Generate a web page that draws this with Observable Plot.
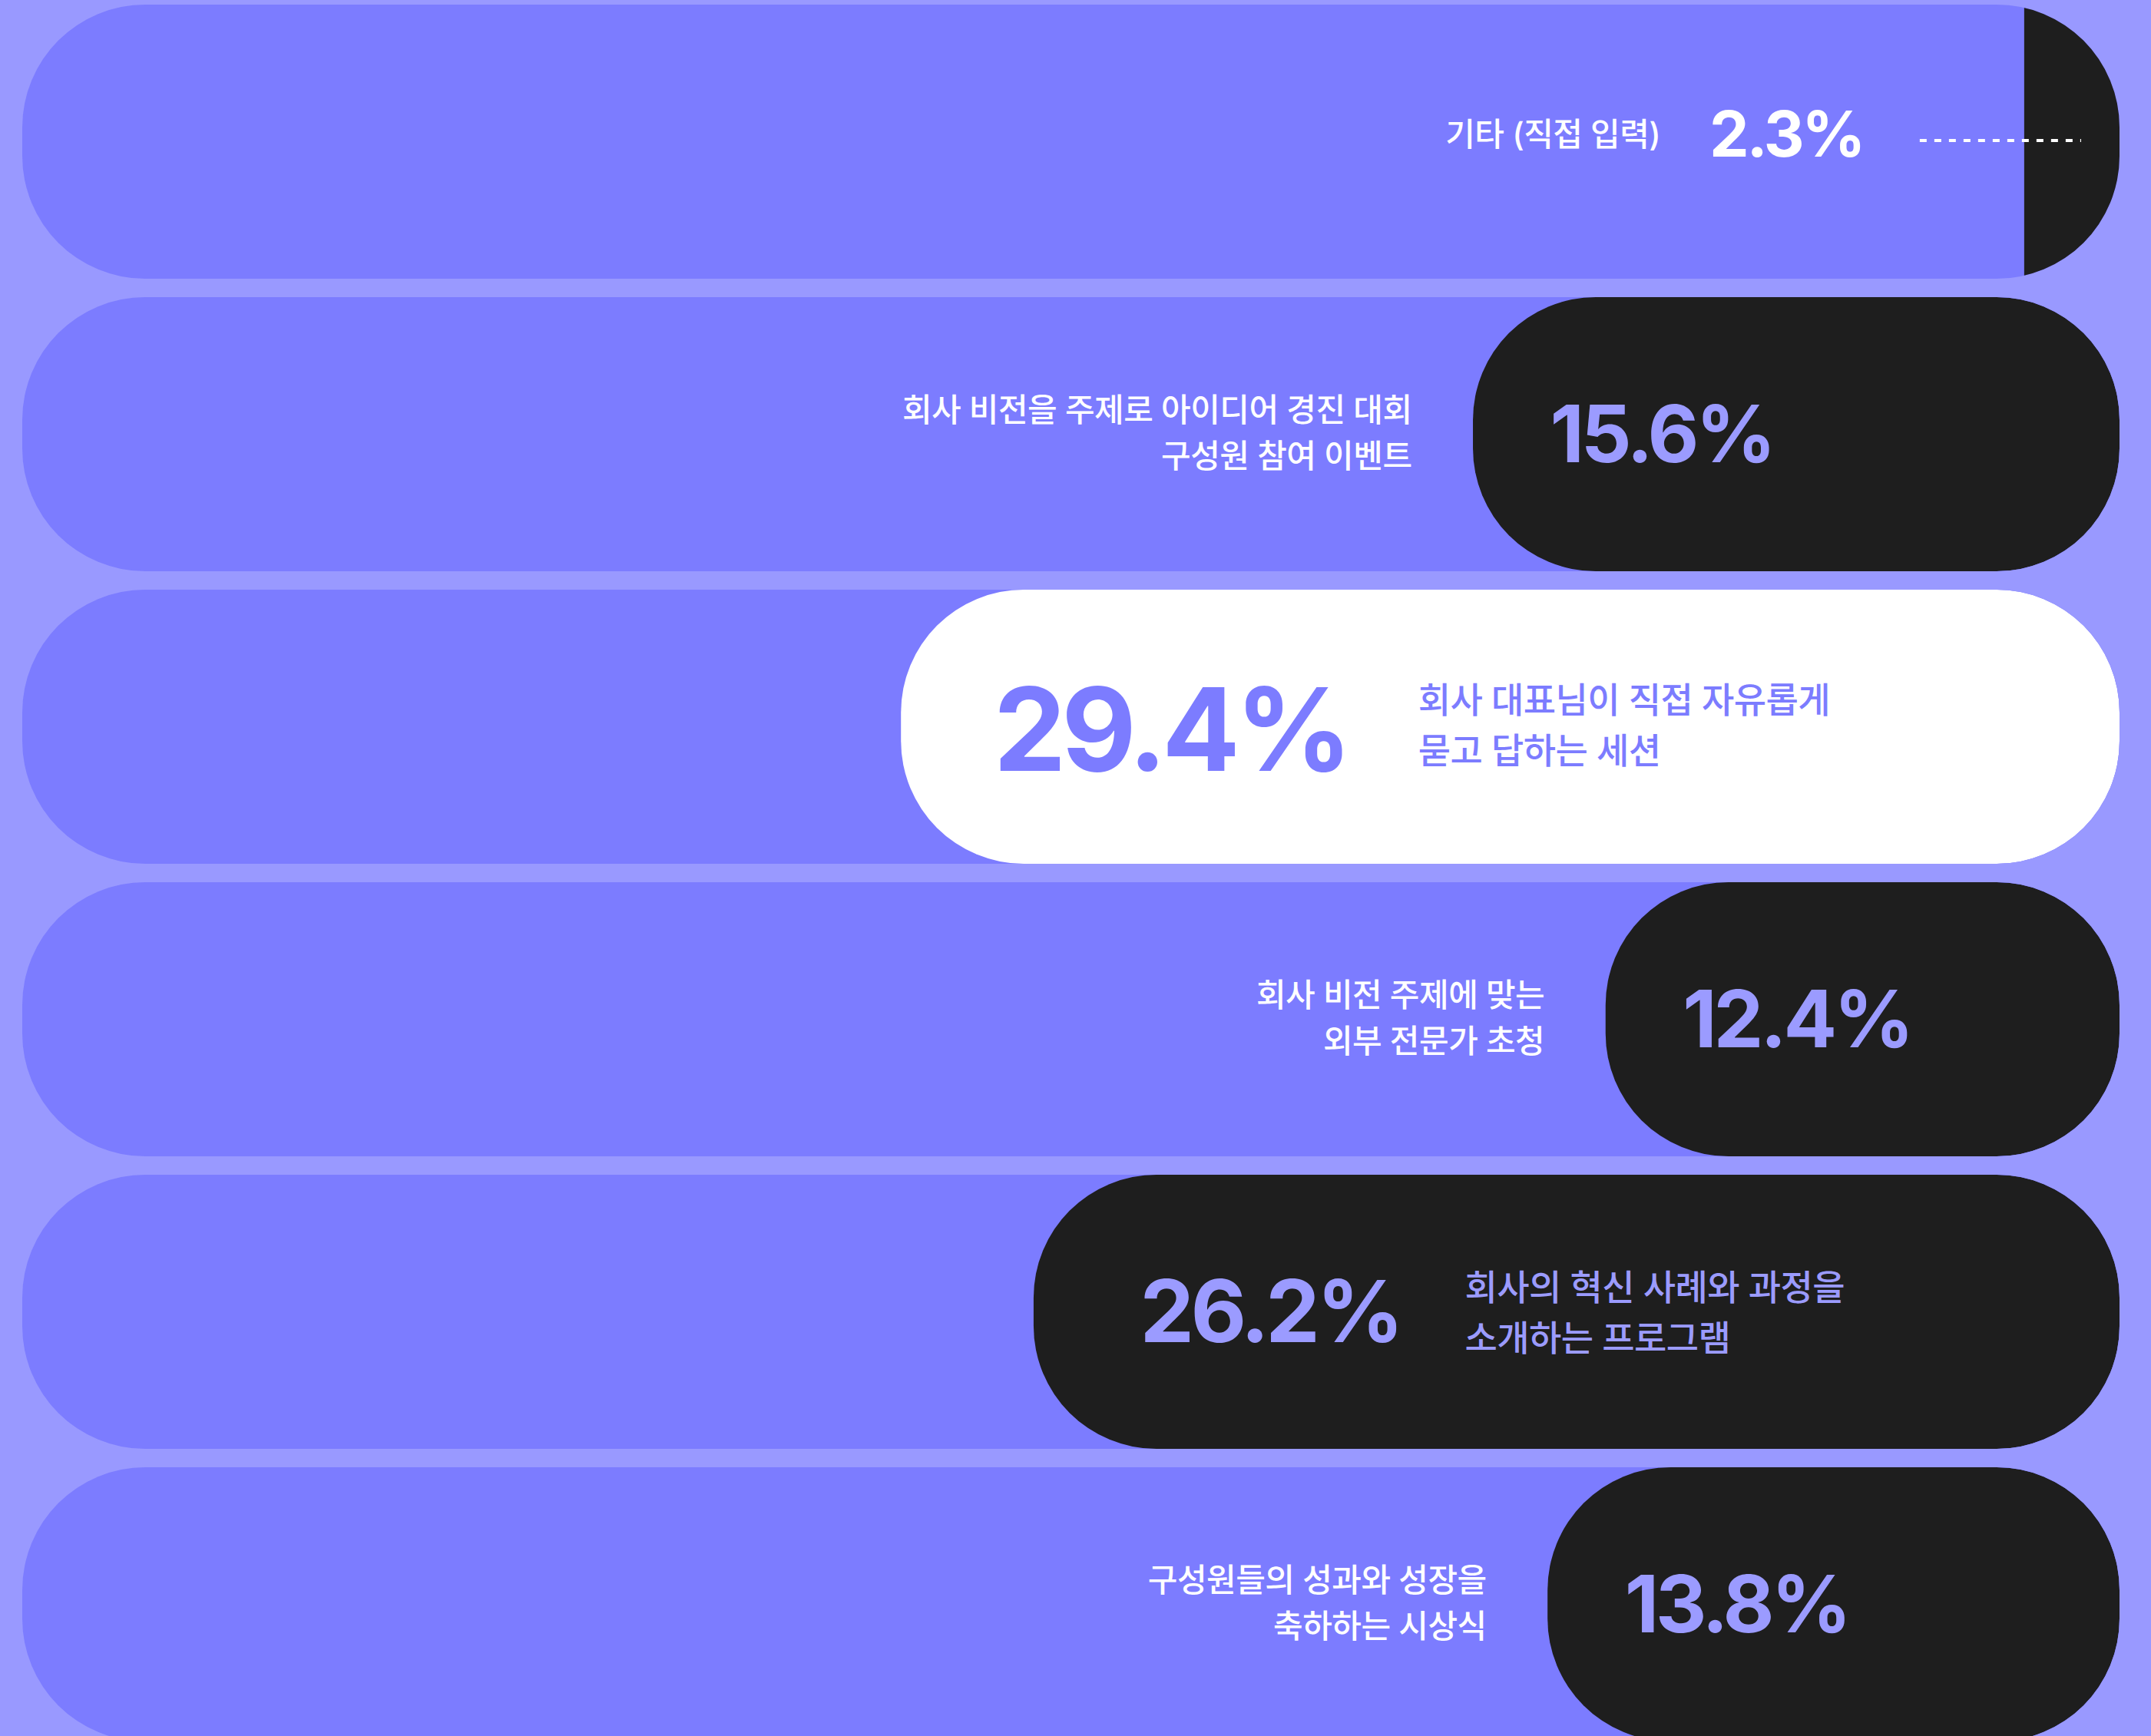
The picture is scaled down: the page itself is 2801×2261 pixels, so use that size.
<!DOCTYPE html>
<html>
<head>
<meta charset="utf-8">
<script src="https://cdn.jsdelivr.net/npm/d3@7"></script>
<script src="https://cdn.jsdelivr.net/npm/@observablehq/plot@0.6"></script>
<style>
  html, body { margin: 0; padding: 0; background: #9999FF; overflow: hidden; }
  #chart svg { display: block; }
</style>
</head>
<body>
<div id="chart"></div>
<script>
// ---- data ----
const categories = [
  "기타 (직접 입력)",
  "회사 비전을 주제로 아이디어 경진 대회\n구성원 참여 이벤트",
  "회사 대표님이 직접 자유롭게\n묻고 답하는 세션",
  "회사 비전 주제에 맞는\n외부 전문가 초청",
  "회사의 혁신 사례와 과정을\n소개하는 프로그램",
  "구성원들의 성과와 성장을\n축하하는 시상식"
];
const values = [2.3, 15.6, 29.4, 12.4, 26.2, 13.8];
const layouts = ["small", "outside", "highlight", "outside", "inside", "outside"];

// ---- styles ----
const BG = "#9999FF", PILL = "#7C7CFF", DARK = "#1E1E1E", LIGHT = "#9B9BFF";
const R = 160;
const xMax = 50.6;

const rows = categories.map((c, i) => ({label: c, value: values[i], layout: layouts[i]}));
const fmt = d => d.value.toFixed(1) + "%";
const by = k => rows.filter(d => d.layout === k);

const chart = Plot.plot({
  width: 2801,
  height: 2261,
  margin: 0,
  x: {domain: [0, xMax], range: [2760, 29], axis: null},
  y: {domain: categories, range: [-6, 2280], paddingInner: 0.063, paddingOuter: 0.0315, round: false, axis: null},
  style: {background: BG, fontFamily: "Inter, 'Noto Sans CJK KR', sans-serif"},
  marks: [
    // background pills
    Plot.barX(rows, {y: "label", x1: 0, x2: xMax, fill: PILL, rx: R, ry: R}),
    // value bars
    Plot.barX(rows.filter(d => d.layout !== "small"), {y: "label", x1: 0, x2: "value",
      fill: d => d.layout === "highlight" ? "#FFFFFF" : DARK, rx: R, ry: R}),
    Plot.barX(by("small"), {y: "label", x1: 0, x2: "value", fill: DARK}),

    // small row: dotted leader, value and label
    Plot.ruleY(by("small"), {y: "label", x1: "value", x2: 0, dy: -2, insetLeft: -136, insetRight: 50,
      stroke: "#FFFFFF", strokeWidth: 4, strokeDasharray: "9,10"}),
    Plot.text(by("small"), {x: "value", y: "label", text: fmt, textAnchor: "end", dx: -210, dy: -7,
      fill: "#FFFFFF", fontSize: 82, fontWeight: 700, lineAnchor: "middle"}),
    Plot.text(by("small"), {x: "value", y: "label", text: "label", textAnchor: "end", dx: -474, dy: -8,
      fill: "#FFFFFF", fontSize: 42, fontWeight: 500, lineAnchor: "middle"}),

    // outside rows: label left of bar, value inside bar
    Plot.text(by("outside"), {x: "value", y: "label", text: "label", textAnchor: "end", dx: -80, dy: -6,
      fill: "#FFFFFF", fontSize: 42, fontWeight: 500, lineHeight: 1.43, lineAnchor: "middle"}),
    Plot.text(by("outside"), {x: "value", y: "label", text: fmt, textAnchor: "start", dx: 100, dy: 3,
      fill: LIGHT, fontSize: 103, fontWeight: 700, lineAnchor: "middle"}),

    // highlighted (white) row
    Plot.text(by("highlight"), {x: "value", y: "label", text: fmt, textAnchor: "start", dx: 120, dy: 9,
      fill: PILL, fontSize: 150, fontWeight: 700, lineAnchor: "middle"}),
    Plot.text(by("highlight"), {x: "value", y: "label", text: "label", textAnchor: "start", dx: 673, dy: -7,
      fill: PILL, fontSize: 46, fontWeight: 500, lineHeight: 1.43, lineAnchor: "middle"}),

    // inside (dark) row
    Plot.text(by("inside"), {x: "value", y: "label", text: fmt, textAnchor: "start", dx: 138, dy: 3,
      fill: LIGHT, fontSize: 112, fontWeight: 700, lineAnchor: "middle"}),
    Plot.text(by("inside"), {x: "value", y: "label", text: "label", textAnchor: "start", dx: 561, dy: -4,
      fill: LIGHT, fontSize: 46, fontWeight: 500, lineHeight: 1.43, lineAnchor: "middle"})
  ]
});

document.getElementById("chart").appendChild(chart);

const svg = d3.select(chart);

// tighter tracking like the reference typeface
svg.selectAll("g[aria-label='text']").each(function () {
  const g = d3.select(this);
  const fs = parseFloat(g.attr("font-size"));
  g.attr("letter-spacing", fs >= 80 ? "-0.04em" : "-0.012em");
});

// clip the value bars to the pill shapes
const barGroups = svg.selectAll("g[aria-label='bar']").nodes();
if (barGroups.length > 1) {
  const defs = svg.insert("defs", ":first-child");
  const cp = defs.append("clipPath").attr("id", "pill-clip");
  d3.select(barGroups[0]).selectAll("rect").each(function () {
    cp.node().appendChild(this.cloneNode());
  });
  barGroups.slice(1).forEach(g => d3.select(g).attr("clip-path", "url(#pill-clip)"));
}
</script>
</body>
</html>
